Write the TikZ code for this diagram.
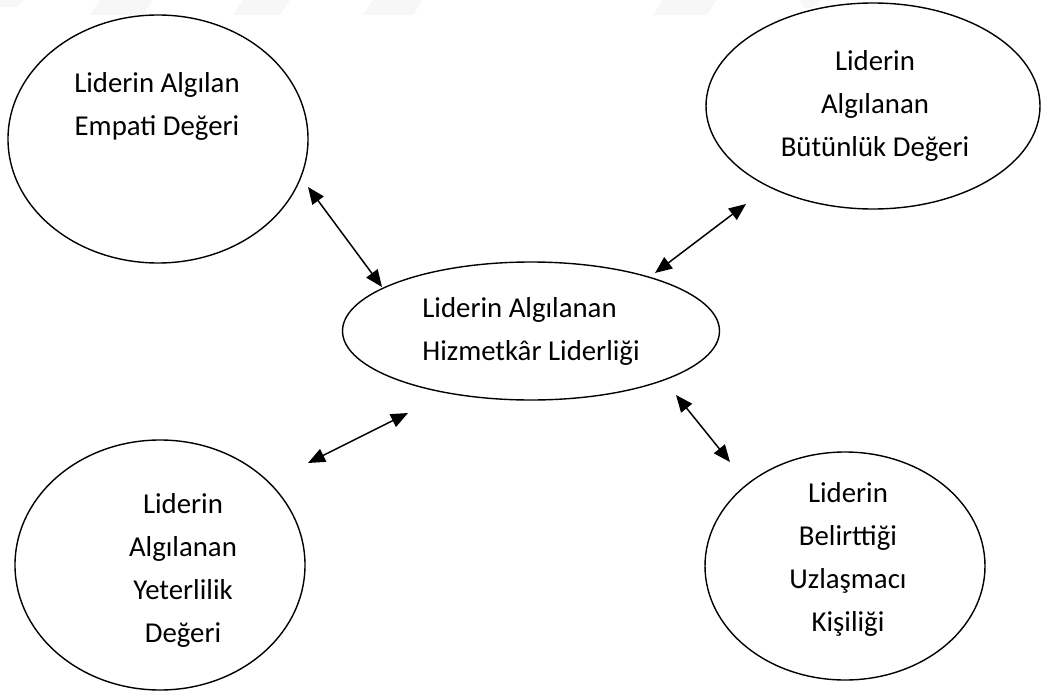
\documentclass[tikz,border=0pt]{standalone}
\usepackage{fontspec}
\setmainfont{Carlito}
\usetikzlibrary{arrows.meta,shapes.geometric}
\begin{document}
\begin{tikzpicture}[x=1pt,y=-1pt,
  bubble/.style={draw,ellipse,line width=1.4pt,inner sep=0pt},
  lbl/.style={align=center,font=\fontsize{28.8}{43}\selectfont,inner sep=0pt},
  link/.style={line width=1.5pt,{Triangle[length=17pt,width=14pt]}-{Triangle[length=17pt,width=14pt]}},
  wm/.style={fill=black!3,draw=none}]
\useasboundingbox (0,0) rectangle (1043,690);
% faint watermark remnants
\fill[wm] (0,0) -- (24,0) -- (18,7) -- (0,7) -- cycle;
\fill[wm] (100,0) -- (153,0) -- (143,15) -- (90,15) -- cycle;
\fill[wm] (243,0) -- (290,0) -- (280,15) -- (233,15) -- cycle;
\fill[wm] (373,0) -- (423,0) -- (413,15) -- (363,15) -- cycle;
\fill[wm] (663,0) -- (717,0) -- (707,15) -- (653,15) -- cycle;
\fill[wm] (800,0) -- (822,0) -- (812,8) -- (805,8) -- cycle;
% ellipses
\node[bubble,minimum width=300pt,minimum height=248pt] (emp) at (158,139) {};
\node[bubble,minimum width=334pt,minimum height=206pt] (but) at (873,106) {};
\node[bubble,minimum width=377pt,minimum height=138pt] (hiz) at (531,331) {};
\node[bubble,minimum width=290pt,minimum height=250pt] (yet) at (160,565) {};
\node[bubble,minimum width=280pt,minimum height=228pt] (uzl) at (845,566) {};
% texts
\node[lbl] (empt) at (157,106) {Liderin Algılan\\Empati Değeri};
\node[lbl] (butt) at (875,106) {Liderin\\Algılanan\\Bütünlük Değeri};
\node[lbl,align=left] (hizt) at (531,331) {Liderin Algılanan\\Hizmetkâr Liderliği};
\node[lbl] (yett) at (183,570) {Liderin\\Algılanan\\Yeterlilik\\Değeri};
\node[lbl] (uzlt) at (848,559) {Liderin\\Belirttiği\\Uzlaşmacı\\Kişiliği};
% arrow ends
\coordinate (e1) at (308,187); \coordinate (c1) at (382,287);
\coordinate (e2) at (746,204); \coordinate (c2) at (655,273);
\coordinate (e3) at (308,463); \coordinate (c3) at (408,413);
\coordinate (e4) at (730,462); \coordinate (c4) at (676,395);
\draw[link] (e1) -- (c1);
\draw[link] (e2) -- (c2);
\draw[link] (e3) -- (c3);
\draw[link] (e4) -- (c4);
\end{tikzpicture}
\end{document}
